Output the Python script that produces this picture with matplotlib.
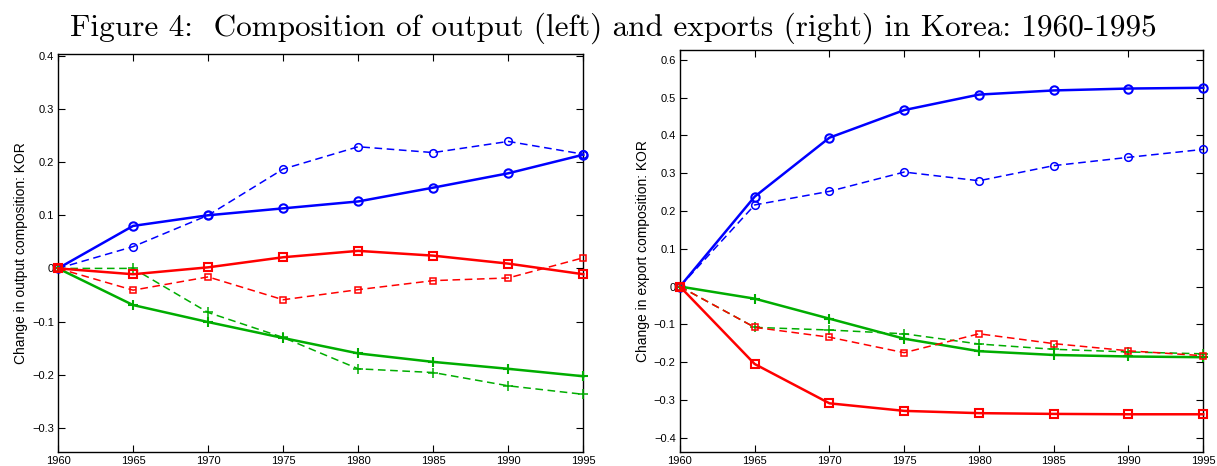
import matplotlib
matplotlib.use("Agg")
import matplotlib.pyplot as plt
from matplotlib.ticker import FuncFormatter

years = [1960, 1965, 1970, 1975, 1980, 1985, 1990, 1995]

# Left panel: output composition
out_blue_solid = [0, 0.080, 0.100, 0.113, 0.126, 0.152, 0.179, 0.214]
out_blue_dash = [0, 0.041, 0.100, 0.187, 0.229, 0.218, 0.239, 0.215]
out_red_solid = [0, -0.011, 0.002, 0.021, 0.033, 0.024, 0.009, -0.011]
out_red_dash = [0, -0.041, -0.016, -0.059, -0.040, -0.023, -0.018, 0.020]
out_green_solid = [0, -0.069, -0.101, -0.131, -0.160, -0.176, -0.189, -0.203]
out_green_dash = [0, 0.000, -0.083, -0.130, -0.189, -0.196, -0.221, -0.237]

# Right panel: export composition
exp_blue_solid = [0, 0.238, 0.394, 0.467, 0.508, 0.519, 0.524, 0.526]
exp_blue_dash = [0, 0.216, 0.252, 0.303, 0.280, 0.320, 0.342, 0.363]
exp_red_solid = [0, -0.205, -0.309, -0.329, -0.335, -0.337, -0.338, -0.338]
exp_red_dash = [0, -0.108, -0.134, -0.175, -0.125, -0.151, -0.170, -0.183]
exp_green_solid = [0, -0.032, -0.085, -0.138, -0.171, -0.181, -0.185, -0.187]
exp_green_dash = [0, -0.108, -0.115, -0.125, -0.152, -0.166, -0.173, -0.178]

left_yticks = [-0.3, -0.2, -0.1, 0, 0.1, 0.2, 0.3, 0.4]
right_yticks = [-0.4, -0.3, -0.2, -0.1, 0, 0.1, 0.2, 0.3, 0.4, 0.5, 0.6]

title = "Figure 4:  Composition of output (left) and exports (right) in Korea: 1960-1995"

BLUE = (0, 0, 1)
RED = (1, 0, 0)
GREEN = (0, 0.68, 0)

plt.rcParams['font.family'] = ['Liberation Sans', 'DejaVu Sans']

fig = plt.figure(figsize=(12.17, 4.66), dpi=100)
fig.text(0.504, 0.94, title, ha='center', va='center', fontsize=22.5,
         family=['cmr10', 'DejaVu Serif'])

axL = fig.add_axes([0.0477, 0.0307, 0.4316, 0.8528])
axR = fig.add_axes([0.5587, 0.0307, 0.4300, 0.8620])


def fmt(v, pos):
    if abs(v) < 1e-9:
        return "0"
    s = f"{v:.1f}"
    return s.replace("-", "\u2212")


def draw(ax, bs, bd, gs, gd, rs, rd, yt, ylim, ylabel):
    solid = dict(lw=1.8, ms=6, mew=1.5, mfc='none', clip_on=False, zorder=3)
    dash = dict(lw=1.1, ms=5.5, mew=1.1, mfc='none', ls=(0, (5, 3)),
                clip_on=False, zorder=3)
    ax.plot(years, bd, color=BLUE, marker='o', **dash)
    ax.plot(years, bs, color=BLUE, marker='o', **solid)
    ax.plot(years, gd, color=GREEN, marker='+', **dict(dash, ms=7))
    ax.plot(years, gs, color=GREEN, marker='+', **dict(solid, ms=7.5))
    ax.plot(years, rd, color=RED, marker='s', **dict(dash, ms=5))
    ax.plot(years, rs, color=RED, marker='s', **dict(solid, ms=5.5))
    ax.set_xlim(1960, 1995)
    ax.set_ylim(*ylim)
    ax.set_xticks(years)
    ax.set_yticks(yt)
    ax.yaxis.set_major_formatter(FuncFormatter(fmt))
    ax.tick_params(direction='in', top=True, right=True, length=5,
                   width=0.8, labelsize=8, pad=3)
    for sp in ax.spines.values():
        sp.set_linewidth(1.0)
    ax.set_ylabel(ylabel, fontsize=10, labelpad=3)


draw(axL, out_blue_solid, out_blue_dash, out_green_solid, out_green_dash,
     out_red_solid, out_red_dash, left_yticks, (-0.345, 0.403),
     "Change in output composition: KOR")
draw(axR, exp_blue_solid, exp_blue_dash, exp_green_solid, exp_green_dash,
     exp_red_solid, exp_red_dash, right_yticks, (-0.437, 0.626),
     "Change in export composition: KOR")

fig.savefig("out.png", dpi=100)
